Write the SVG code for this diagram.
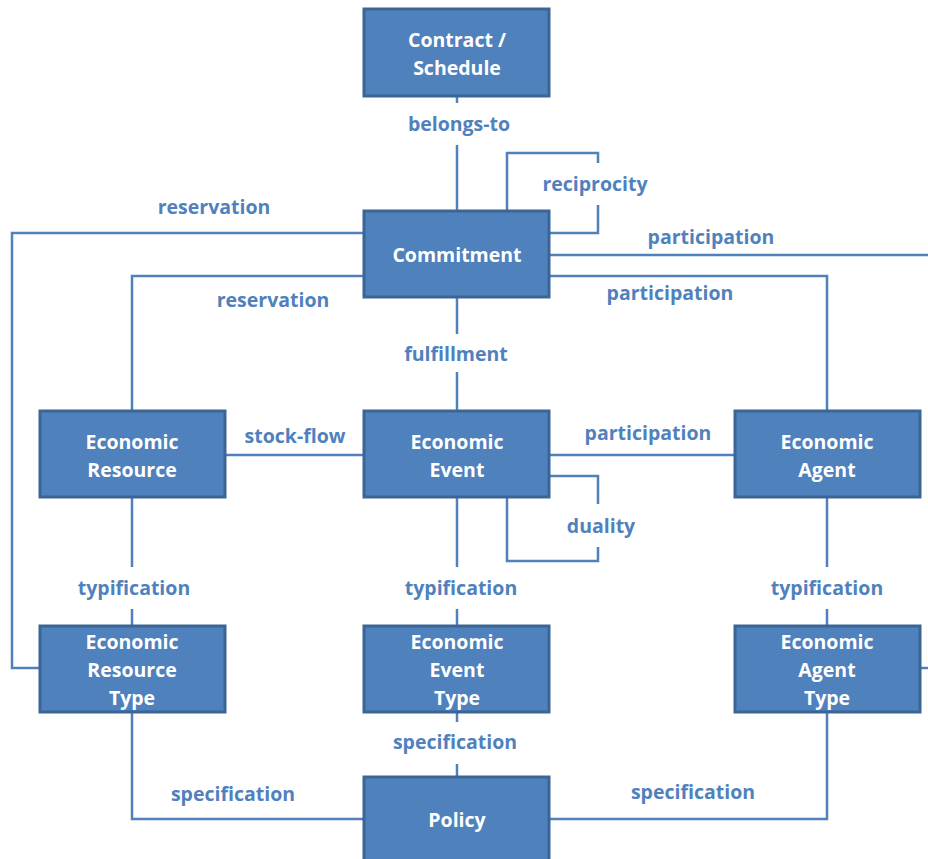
<svg xmlns="http://www.w3.org/2000/svg" width="928" height="859" viewBox="0 0 928 859">
  <style>
    .box { fill: #4F81BD; stroke: #3B6595; stroke-width: 3; }
    .bt { fill: #FFFFFF; font-family: "Open Sans", "Noto Sans", sans-serif; font-weight: bold; font-size: 19.5px; text-anchor: middle; }
    .lbl { fill: #4F81BD; font-family: "Open Sans", "Noto Sans", sans-serif; font-weight: bold; font-size: 19.5px; text-anchor: middle; }
    .ln { fill: none; stroke: #4F81BD; stroke-width: 2.5; }
  </style>
  <rect width="928" height="859" fill="#FFFFFF"/>

  <g id="connectors">
    <!-- belongs-to -->
    <path class="ln" d="M457 97 V103 M457 145 V211"/>
    <!-- reciprocity loop -->
    <path class="ln" d="M507 211 V153 H598 V163 M598 205 V233 H549"/>
    <!-- participation to the right edge -->
    <path class="ln" d="M549 255 H928"/>
    <!-- participation to agent -->
    <path class="ln" d="M549 276 H827 V411"/>
    <!-- reservation to resource type -->
    <path class="ln" d="M364 233 H12 V668 H40"/>
    <!-- reservation to resource -->
    <path class="ln" d="M364 276 H132 V411"/>
    <!-- fulfillment -->
    <path class="ln" d="M457 297 V334 M457 372 V411"/>
    <!-- stock-flow -->
    <path class="ln" d="M225 455 H364"/>
    <!-- participation event-agent -->
    <path class="ln" d="M549 455 H735"/>
    <!-- duality loop -->
    <path class="ln" d="M549 476 H598 V504 M598 547 V561 H507 V497"/>
    <!-- typification -->
    <path class="ln" d="M132 497 V567 M132 609 V626"/>
    <path class="ln" d="M457 497 V567 M457 609 V626"/>
    <path class="ln" d="M827 497 V567 M827 609 V626"/>
    <!-- agent type to the right edge -->
    <path class="ln" d="M920 668 H928"/>
    <!-- specification -->
    <path class="ln" d="M132 712 V819 H364"/>
    <path class="ln" d="M457 712 V722 M457 764 V777"/>
    <path class="ln" d="M549 819 H827 V712"/>
  </g>

  <g id="edge-labels">
    <text class="lbl" x="459" y="131">belongs-to</text>
    <text class="lbl" x="595" y="191">reciprocity</text>
    <text class="lbl" x="214" y="214">reservation</text>
    <text class="lbl" x="711" y="244">participation</text>
    <text class="lbl" x="273" y="307">reservation</text>
    <text class="lbl" x="670" y="300">participation</text>
    <text class="lbl" x="456" y="361">fulfillment</text>
    <text class="lbl" x="295" y="443">stock-flow</text>
    <text class="lbl" x="648" y="440">participation</text>
    <text class="lbl" x="601" y="533">duality</text>
    <text class="lbl" x="134" y="595">typification</text>
    <text class="lbl" x="461" y="595">typification</text>
    <text class="lbl" x="827" y="595">typification</text>
    <text class="lbl" x="455" y="749">specification</text>
    <text class="lbl" x="233" y="801">specification</text>
    <text class="lbl" x="693" y="799">specification</text>
  </g>

  <g id="contract">
    <rect class="box" x="364" y="9" width="185" height="87"/>
    <text class="bt" x="457" y="47">Contract /</text>
    <text class="bt" x="457" y="75">Schedule</text>
  </g>
  <g id="commitment">
    <rect class="box" x="364" y="211" width="185" height="86"/>
    <text class="bt" x="457" y="262">Commitment</text>
  </g>
  <g id="economic-resource">
    <rect class="box" x="40" y="411" width="185" height="86"/>
    <text class="bt" x="132" y="449">Economic</text>
    <text class="bt" x="132" y="477">Resource</text>
  </g>
  <g id="economic-event">
    <rect class="box" x="364" y="411" width="185" height="86"/>
    <text class="bt" x="457" y="449">Economic</text>
    <text class="bt" x="457" y="477">Event</text>
  </g>
  <g id="economic-agent">
    <rect class="box" x="735" y="411" width="185" height="86"/>
    <text class="bt" x="827" y="449">Economic</text>
    <text class="bt" x="827" y="477">Agent</text>
  </g>
  <g id="economic-resource-type">
    <rect class="box" x="40" y="626" width="185" height="86"/>
    <text class="bt" x="132" y="649">Economic</text>
    <text class="bt" x="132" y="677">Resource</text>
    <text class="bt" x="132" y="705">Type</text>
  </g>
  <g id="economic-event-type">
    <rect class="box" x="364" y="626" width="185" height="86"/>
    <text class="bt" x="457" y="649">Economic</text>
    <text class="bt" x="457" y="677">Event</text>
    <text class="bt" x="457" y="705">Type</text>
  </g>
  <g id="economic-agent-type">
    <rect class="box" x="735" y="626" width="185" height="86"/>
    <text class="bt" x="827" y="649">Economic</text>
    <text class="bt" x="827" y="677">Agent</text>
    <text class="bt" x="827" y="705">Type</text>
  </g>
  <g id="policy">
    <rect class="box" x="364" y="777" width="185" height="90"/>
    <text class="bt" x="457" y="827">Policy</text>
  </g>
</svg>
